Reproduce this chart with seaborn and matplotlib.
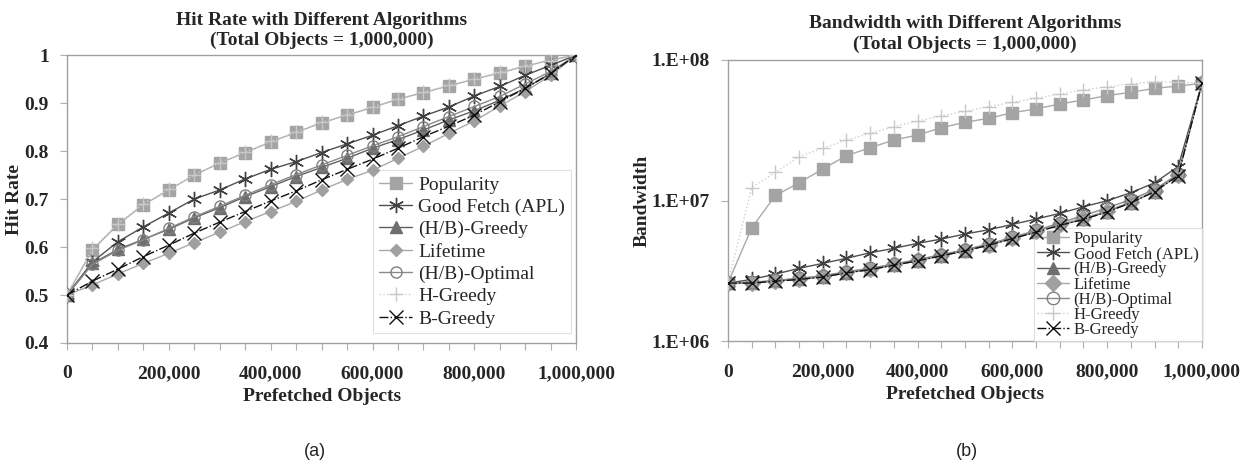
import numpy as np
import pandas as pd
import matplotlib
matplotlib.use("Agg")
import matplotlib.pyplot as plt
import matplotlib.ticker as mticker
import seaborn as sns

# ---------------- data ----------------
prefetched = [0, 50000, 100000, 150000, 200000, 250000, 300000, 350000, 400000,
              450000, 500000, 550000, 600000, 650000, 700000, 750000, 800000,
              850000, 900000, 950000, 1000000]

series_names = ["Popularity", "Good Fetch (APL)", "(H/B)-Greedy", "Lifetime",
                "(H/B)-Optimal", "H-Greedy", "B-Greedy"]

# Hit rate (panel a)
hr_popularity = [0.5, 0.594, 0.647, 0.688, 0.719, 0.750, 0.775, 0.797, 0.819, 0.839,
                 0.859, 0.875, 0.891, 0.908, 0.922, 0.936, 0.950, 0.963, 0.977, 0.990, 1.0]
hr_goodfetch = [0.5, 0.569, 0.611, 0.642, 0.671, 0.700, 0.719, 0.742, 0.762, 0.778,
                0.797, 0.815, 0.833, 0.853, 0.873, 0.892, 0.915, 0.935, 0.958, 0.979, 1.0]
hr_hb_greedy = [0.5, 0.566, 0.595, 0.616, 0.637, 0.661, 0.682, 0.705, 0.726, 0.747,
                0.766, 0.785, 0.806, 0.824, 0.844, 0.865, 0.884, 0.906, 0.931, 0.962, 1.0]
hr_lifetime = [0.5, 0.521, 0.544, 0.566, 0.587, 0.609, 0.631, 0.653, 0.674, 0.695,
               0.719, 0.741, 0.760, 0.785, 0.810, 0.837, 0.863, 0.894, 0.924, 0.958, 1.0]
hr_hb_optimal = [0.5, 0.564, 0.593, 0.615, 0.639, 0.663, 0.685, 0.708, 0.730, 0.751,
                 0.771, 0.791, 0.811, 0.830, 0.851, 0.872, 0.893, 0.914, 0.940, 0.966, 1.0]
hr_h_greedy = [0.5, 0.597, 0.649, 0.690, 0.720, 0.750, 0.776, 0.798, 0.820, 0.840,
               0.860, 0.876, 0.892, 0.909, 0.923, 0.937, 0.951, 0.964, 0.978, 0.988, 1.0]
hr_b_greedy = [0.5, 0.529, 0.554, 0.580, 0.604, 0.629, 0.652, 0.674, 0.696, 0.717,
               0.740, 0.762, 0.783, 0.806, 0.830, 0.852, 0.875, 0.903, 0.931, 0.962, 1.0]

# Bandwidth (panel b)
bw_popularity = [2.6e6, 6.4e6, 1.09e7, 1.34e7, 1.68e7, 2.09e7, 2.38e7, 2.70e7, 2.93e7, 3.30e7,
                 3.61e7, 3.85e7, 4.22e7, 4.49e7, 4.87e7, 5.20e7, 5.58e7, 5.89e7, 6.29e7, 6.53e7, 6.82e7]
bw_goodfetch = [2.6e6, 2.76e6, 3.01e6, 3.31e6, 3.59e6, 3.90e6, 4.27e6, 4.59e6, 4.98e6, 5.34e6,
                5.80e6, 6.22e6, 6.79e6, 7.41e6, 8.13e6, 9.06e6, 1.0e7, 1.14e7, 1.34e7, 1.75e7, 6.82e7]
bw_hb_greedy = [2.6e6, 2.61e6, 2.69e6, 2.77e6, 2.88e6, 3.08e6, 3.25e6, 3.49e6, 3.75e6, 4.07e6,
                4.41e6, 4.84e6, 5.40e6, 6.00e6, 6.71e6, 7.38e6, 8.36e6, 9.69e6, 1.16e7, 1.52e7, 6.82e7]
bw_lifetime = [2.6e6, 2.62e6, 2.71e6, 2.80e6, 2.92e6, 3.12e6, 3.30e6, 3.53e6, 3.79e6, 4.11e6,
               4.45e6, 4.88e6, 5.45e6, 6.08e6, 6.80e6, 7.50e6, 8.50e6, 9.80e6, 1.17e7, 1.53e7, 6.82e7]
bw_hb_optimal = [2.6e6, 2.63e6, 2.72e6, 2.81e6, 2.93e6, 3.13e6, 3.31e6, 3.55e6, 3.82e6, 4.14e6,
                 4.49e6, 4.93e6, 5.50e6, 6.15e6, 6.95e6, 7.85e6, 8.90e6, 1.02e7, 1.20e7, 1.55e7, 6.82e7]
bw_h_greedy = [2.6e6, 1.24e7, 1.59e7, 2.06e7, 2.36e7, 2.70e7, 3.01e7, 3.36e7, 3.68e7, 4.00e7,
               4.32e7, 4.66e7, 5.00e7, 5.35e7, 5.73e7, 6.12e7, 6.46e7, 6.75e7, 7.01e7, 6.95e7, 6.82e7]
bw_b_greedy = [2.6e6, 2.60e6, 2.68e6, 2.76e6, 2.87e6, 3.07e6, 3.24e6, 3.48e6, 3.74e6, 4.06e6,
               4.40e6, 4.83e6, 5.38e6, 5.98e6, 6.69e6, 7.36e6, 8.34e6, 9.66e6, 1.16e7, 1.51e7, 6.82e7]

x_ticks = [0, 200000, 400000, 600000, 800000, 1000000]
hr_ticks = [0.4, 0.5, 0.6, 0.7, 0.8, 0.9, 1.0]
hr_tick_labels = ["0.4", "0.5", "0.6", "0.7", "0.8", "0.9", "1"]
bw_ticks = [1e6, 1e7, 1e8]
bw_tick_labels = ["1.E+06", "1.E+07", "1.E+08"]

# ---------------- styling ----------------
sns.set_theme(style="white")
plt.rcParams["font.family"] = ["Liberation Serif", "DejaVu Serif"]

asterisk = (6, 2, 0)
styles = {
    "Popularity":       dict(color="#a9a9a9", marker="s", ls="-",  mfc="#a4a4a4", mec="#a4a4a4", lw=1.0),
    "Good Fetch (APL)": dict(color="#505050", marker=asterisk, ls="-", mfc="#404040", mec="#404040", lw=1.0),
    "(H/B)-Greedy":     dict(color="#606060", marker="^", ls="-",  mfc="#6e6e6e", mec="#6e6e6e", lw=1.0),
    "Lifetime":         dict(color="#a9a9a9", marker="D", ls="-",  mfc="#a0a0a0", mec="#a0a0a0", lw=1.0),
    "(H/B)-Optimal":    dict(color="#8a8a8a", marker="o", ls="-",  mfc="none",    mec="#808080", lw=1.0),
    "H-Greedy":         dict(color="#cfcfcf", marker="+", ls=":",  mfc="#c8c8c8", mec="#c8c8c8", lw=1.0),
    "B-Greedy":         dict(color="#111111", marker="x", ls="-.", mfc="#111111", mec="#111111", lw=1.0),
}
msizes_a = {"Popularity": 8, "Good Fetch (APL)": 11, "(H/B)-Greedy": 8, "Lifetime": 6,
            "(H/B)-Optimal": 8, "H-Greedy": 10, "B-Greedy": 10}
msizes_b = {"Popularity": 9, "Good Fetch (APL)": 11, "(H/B)-Greedy": 9, "Lifetime": 8,
            "(H/B)-Optimal": 9, "H-Greedy": 10, "B-Greedy": 10}

hr_values = [hr_popularity, hr_goodfetch, hr_hb_greedy, hr_lifetime, hr_hb_optimal, hr_h_greedy, hr_b_greedy]
bw_values = [bw_popularity, bw_goodfetch, bw_hb_greedy, bw_lifetime, bw_hb_optimal, bw_h_greedy, bw_b_greedy]

fig = plt.figure(figsize=(12.45, 4.65), dpi=100)
ax1 = fig.add_axes([0.0538, 0.2624, 0.409, 0.619])
ax2 = fig.add_axes([0.5847, 0.2656, 0.3807, 0.6054])

draw_order = [5, 0, 3, 6, 2, 4, 1]


def draw(ax, values, msizes):
    handles = {}
    for i in draw_order:
        name = series_names[i]
        st = styles[name]
        df = pd.DataFrame({"x": prefetched, "y": values[i]})
        sns.lineplot(data=df, x="x", y="y", ax=ax, color=st["color"], linestyle=st["ls"],
                     linewidth=st["lw"], marker=st["marker"], markersize=msizes[name],
                     markerfacecolor=st["mfc"], markeredgecolor=st["mec"],
                     markeredgewidth=1.0, label=name, zorder=3 + i, estimator=None)
        handles[name] = ax.get_lines()[-1]
    return [handles[n] for n in series_names]


def style_axes(ax):
    for sp in ax.spines.values():
        sp.set_color("#a0a0a0")
        sp.set_linewidth(1.0)
    ax.set_xlim(0, 1000000)
    ax.xaxis.set_major_locator(mticker.FixedLocator(x_ticks))
    ax.xaxis.set_minor_locator(mticker.MultipleLocator(50000))
    ax.xaxis.set_major_formatter(mticker.FuncFormatter(lambda v, p: f"{int(round(v)):,}"))
    ax.tick_params(axis="x", which="both", direction="out", length=5, width=0.8,
                   color="#b0b0b0", bottom=True)
    ax.tick_params(axis="x", which="major", pad=11, labelsize=14)
    ax.tick_params(axis="y", which="major", direction="out", length=5, width=0.8,
                   color="#b0b0b0", left=True, pad=8, labelsize=14)
    for lab in ax.get_xticklabels() + ax.get_yticklabels():
        lab.set_fontweight("bold")
    ax.set_xlabel("Prefetched Objects", fontsize=14, fontweight="bold", labelpad=4)


# Panel (a)
h1 = draw(ax1, hr_values, msizes_a)
ax1.set_ylim(0.4, 1.0)
ax1.yaxis.set_major_locator(mticker.FixedLocator(hr_ticks))
ax1.yaxis.set_major_formatter(mticker.FixedFormatter(hr_tick_labels))
style_axes(ax1)
ax1.set_ylabel("Hit Rate", fontsize=14, fontweight="bold", labelpad=1)
ax1.set_title("Hit Rate with Different Algorithms\n(Total Objects = 1,000,000)",
              fontsize=14, fontweight="bold", pad=7, linespacing=1.25)
leg1 = ax1.legend(h1, series_names, loc="lower right", bbox_to_anchor=(0.997, 0.02),
                  fontsize=14, frameon=True, fancybox=False, handlelength=1.7,
                  handletextpad=0.3, labelspacing=0.24, borderpad=0.3, borderaxespad=0.2)
leg1.get_frame().set_edgecolor("#d8d8d8")
leg1.get_frame().set_linewidth(0.8)

# Panel (b)
h2 = draw(ax2, bw_values, msizes_b)
ax2.set_yscale("log")
ax2.set_ylim(1e6, 1e8)
ax2.yaxis.set_major_locator(mticker.FixedLocator(bw_ticks))
ax2.yaxis.set_major_formatter(mticker.FixedFormatter(bw_tick_labels))
ax2.yaxis.set_minor_locator(mticker.NullLocator())
style_axes(ax2)
ax2.set_ylabel("Bandwidth", fontsize=14, fontweight="bold", labelpad=1)
ax2.set_title("Bandwidth with Different Algorithms\n(Total Objects = 1,000,000)",
              fontsize=14, fontweight="bold", pad=8, linespacing=1.25)
leg2 = ax2.legend(h2, series_names, loc="lower right", bbox_to_anchor=(1.0, 0.0),
                  fontsize=12, frameon=True, fancybox=False, handlelength=1.9,
                  handletextpad=0.3, labelspacing=-0.05, borderpad=0.2, borderaxespad=0.0)
leg2.get_frame().set_edgecolor("#d8d8d8")
leg2.get_frame().set_linewidth(0.8)

# panel labels
fig.text(0.253, 0.028, "(a)", ha="center", va="center", fontsize=13,
         family=["Liberation Sans", "DejaVu Sans"])
fig.text(0.777, 0.028, "(b)", ha="center", va="center", fontsize=13,
         family=["Liberation Sans", "DejaVu Sans"])

fig.savefig("out.png", dpi=100)
